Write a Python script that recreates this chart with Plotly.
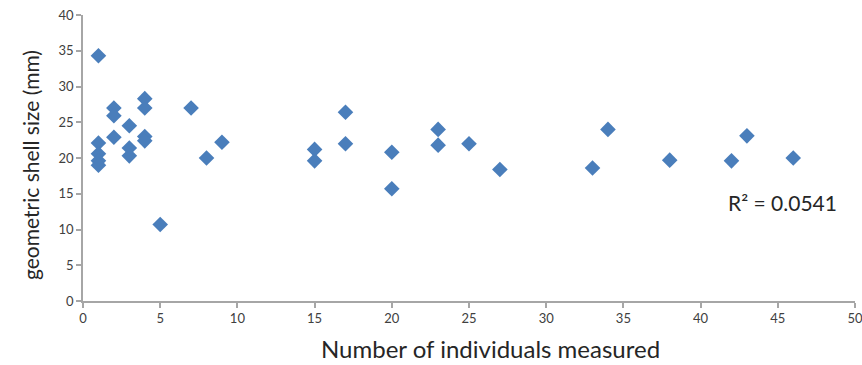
import plotly.graph_objects as go

# Number of individuals measured per sample and the geometric shell size (mm)
individuals = [1, 1, 1, 1, 1,
               2, 2, 2,
               3, 3, 3,
               4, 4, 4, 4,
               5, 7, 8, 9,
               15, 15, 17, 17, 20, 20, 23, 23, 25, 27,
               33, 34, 38, 42, 43, 46]
shell_size = [34.3, 22.1, 20.6, 19.6, 19.0,
              27.0, 25.9, 22.9,
              24.5, 21.4, 20.3,
              28.3, 27.0, 23.0, 22.4,
              10.7, 27.0, 20.0, 22.2,
              21.2, 19.6, 26.4, 22.0, 20.8, 15.7, 24.0, 21.8, 22.0, 18.4,
              18.6, 24.0, 19.7, 19.6, 23.1, 20.0]
r_squared_label = "R² = 0.0541"
x_title = "Number of individuals measured"
y_title = "geometric shell size (mm)"

x_ticks = list(range(0, 51, 5))
y_ticks = list(range(0, 41, 5))

font_family = "Lato, 'Open Sans', sans-serif"
axis_gray = "#a6a6a6"
text_gray = "#404040"
title_color = "#262626"

fig = go.Figure()
fig.add_trace(go.Scatter(
    x=individuals, y=shell_size, mode="markers",
    marker=dict(symbol="diamond", size=12, color="#4a7ebb",
                line=dict(width=0)),
    showlegend=False,
))

fig.add_annotation(
    x=45.3, y=13.8, xref="x", yref="y", text=r_squared_label,
    showarrow=False, font=dict(family=font_family, size=21, color=title_color),
    xanchor="center", yanchor="middle",
)

# Axis titles placed as paper annotations for exact positioning
fig.add_annotation(
    x=490, y=365 - 348, xref="paper", yref="paper", text=x_title,
    showarrow=False, font=dict(family=font_family, size=24, color=title_color),
    xanchor="center", yanchor="middle", borderpad=0,
)
fig.add_annotation(
    x=30, y=365 - 165, xref="paper", yref="paper", text=y_title, textangle=-90,
    showarrow=False, font=dict(family=font_family, size=21, color=title_color),
    xanchor="center", yanchor="middle",
)

fig.update_layout(
    width=862, height=365,
    margin=dict(l=83, r=7, t=15, b=64),
    paper_bgcolor="white", plot_bgcolor="white",
    font=dict(family=font_family, color=text_gray),
)
fig.update_xaxes(
    range=[0, 50], tickvals=x_ticks, showgrid=False, zeroline=False,
    showline=True, linecolor=axis_gray, linewidth=1.5,
    ticks="outside", tickcolor=axis_gray, ticklen=5, tickwidth=1.5,
    ticklabeloverflow="allow", automargin=False,
    tickfont=dict(size=13, color=text_gray),
)
fig.update_yaxes(
    range=[0, 40], tickvals=y_ticks, showgrid=False, zeroline=False,
    showline=True, linecolor=axis_gray, linewidth=1.5,
    ticks="outside", tickcolor=axis_gray, ticklen=5, tickwidth=1.5,
    automargin=False,
    tickfont=dict(size=13, color=text_gray),
)

# Convert the pixel-based annotation positions into paper fractions
plot_w = 862 - 83 - 7
plot_h = 365 - 15 - 64
for ann in fig.layout.annotations:
    if ann.xref == "paper":
        ann.x = (ann.x - 83) / plot_w
        ann.y = (ann.y - 64) / plot_h

fig.write_html("out.html")
